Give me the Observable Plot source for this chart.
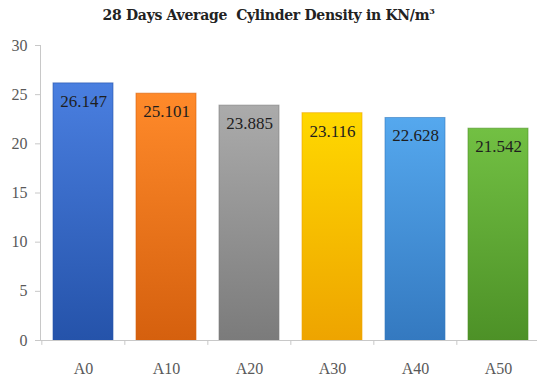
<!DOCTYPE html>
<html>
<head>
<meta charset="utf-8">
<script src="https://cdn.jsdelivr.net/npm/d3@7"></script>
<script src="https://cdn.jsdelivr.net/npm/@observablehq/plot@0.6"></script>
<style>
  html, body { margin: 0; padding: 0; background: #fff; }
  #wrap { width: 537px; height: 381px; position: relative; overflow: hidden; }
  #title { height: 30px; line-height: 30px; text-align: center; font-family: "DejaVu Serif", serif; font-weight: bold; font-size: 14px; color: #222; letter-spacing: -0.3px; }
  #title sup { font-size: 8px; vertical-align: 6px; line-height: 0; }
  #chart svg, #chart svg text { font-family: "Liberation Serif", "Times New Roman", serif !important; }
</style>
</head>
<body>
<div id="wrap">
  <div id="title">28 Days Average&nbsp; Cylinder Density in KN/m<sup>3</sup></div>
  <div id="chart"></div>
</div>
<script>
const categories = ["A0", "A10", "A20", "A30", "A40", "A50"];
const densities = [26.147, 25.101, 23.885, 23.116, 22.628, 21.542];
const yTicks = [0, 5, 10, 15, 20, 25, 30];
const topColors = ["#4a7fe0", "#ff8a2a", "#ababab", "#ffd800", "#55a8ee", "#72c043"];
const bottomColors = ["#2553aa", "#d5600e", "#7b7b7b", "#eea400", "#3479c0", "#4d9127"];

const data = categories.map((c, i) => ({ cat: c, value: densities[i], idx: i }));

const chart = Plot.plot({
  width: 537,
  height: 351,
  marginLeft: 40,
  marginRight: 0,
  marginTop: 15,
  marginBottom: 41,
  style: { fontSize: "15px", color: "#595959", background: "#fff" },
  x: { domain: categories, range: [40, 540], paddingInner: 0.28, paddingOuter: 0.14, label: null },
  y: { domain: [0, 30], label: null },
  marks: [
    Plot.barY(data, {
      x: "cat", y: "value",
      fill: d => `url(#grad${d.idx})`,
      stroke: d => bottomColors[d.idx],
      strokeWidth: 1,
      strokeOpacity: 0.6
    }),
    Plot.text(data, {
      x: "cat", y: "value", text: d => d.value.toFixed(3), dy: 18,
      fill: "#1e1e1e", fontSize: 17
    }),
    Plot.frame({ anchor: "left", stroke: "#c8c8c8" }),
    Plot.ruleY([0], { stroke: "#c8c8c8" }),
    Plot.ruleX(categories, { x: d => d, dx: -41.67, y1: 0, y2: -0.5, stroke: "#c8c8c8" }),
    Plot.axisY({ ticks: yTicks, tickSize: 5, tickPadding: 8, stroke: "#c8c8c8", fill: "#595959", fontSize: 16, label: null }),
    Plot.axisX({ tickSize: 0, tickPadding: 22, fill: "#595959", fontSize: 16, label: null })
  ]
});

const svg = d3.select(chart);
const defs = svg.insert("defs", ":first-child");
categories.forEach((c, i) => {
  const g = defs.append("linearGradient").attr("id", "grad" + i)
    .attr("x1", 0).attr("y1", 0).attr("x2", 0).attr("y2", 1);
  g.append("stop").attr("offset", "0%").attr("stop-color", topColors[i]);
  g.append("stop").attr("offset", "100%").attr("stop-color", bottomColors[i]);
});
svg.style("overflow", "hidden");
document.getElementById("chart").appendChild(chart);
</script>
</body>
</html>
